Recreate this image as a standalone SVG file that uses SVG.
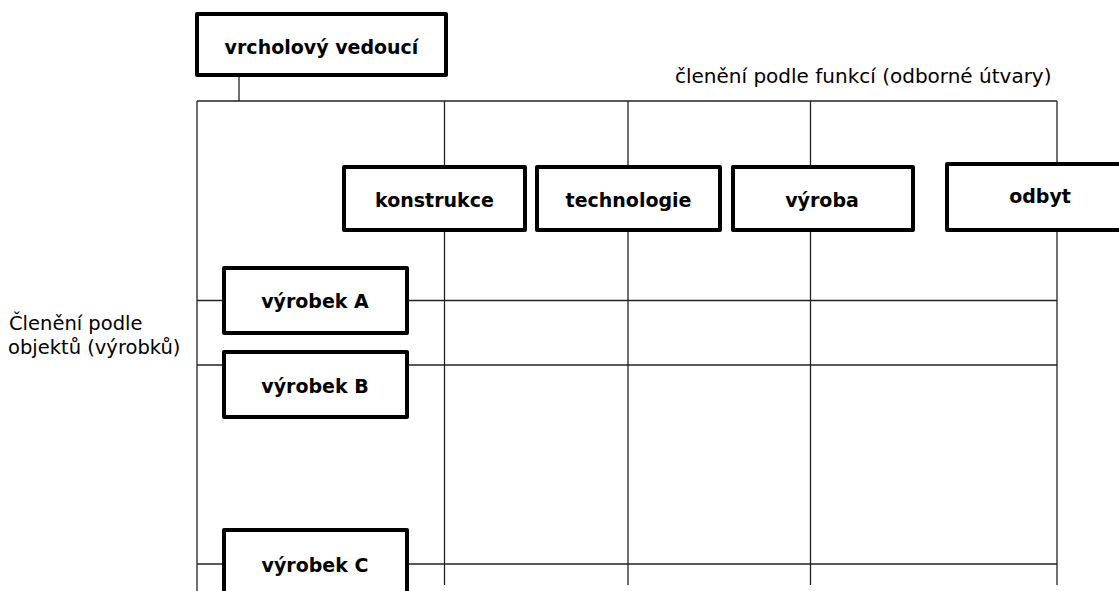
<svg xmlns="http://www.w3.org/2000/svg" width="1119" height="591" viewBox="0 0 1119 591">
  <style>
    .grid { stroke: #222; stroke-width: 1.3; fill: none; }
    .box rect { fill: #fff; stroke: #000; stroke-width: 4; stroke-linejoin: round; }
    .box text { font-family: "DejaVu Sans", Verdana, sans-serif; font-weight: bold; font-size: 19px; fill: #000; text-anchor: middle; }
    .note { font-family: "DejaVu Sans", Verdana, sans-serif; font-size: 20px; fill: #000; }
    .side { font-family: "DejaVu Sans", Verdana, sans-serif; font-size: 19.5px; fill: #000; }
  </style>

  <rect width="1119" height="591" fill="#fff"/>

  <!-- matrix grid and link from the top manager -->
  <g id="connectors" class="grid">
    <line x1="239" y1="76" x2="239" y2="101"/>
    <line x1="197" y1="101" x2="1057" y2="101"/>
    <line x1="197" y1="101" x2="197" y2="591"/>
    <line x1="444.5" y1="101" x2="444.5" y2="585"/>
    <line x1="628" y1="101" x2="628" y2="585"/>
    <line x1="810.5" y1="101" x2="810.5" y2="585"/>
    <line x1="1057" y1="101" x2="1057" y2="585"/>
    <line x1="197" y1="300.5" x2="1057" y2="300.5"/>
    <line x1="197" y1="365" x2="1057" y2="365"/>
    <line x1="197" y1="564" x2="1057" y2="564"/>
  </g>

  <g id="vrcholovy-vedouci" class="box">
    <rect x="197" y="14" width="249" height="61"/>
    <text x="321.5" y="54">vrcholový vedoucí</text>
  </g>

  <g id="konstrukce" class="box">
    <rect x="344" y="167" width="181" height="63"/>
    <text x="434.5" y="207">konstrukce</text>
  </g>

  <g id="technologie" class="box">
    <rect x="537" y="167" width="183" height="63"/>
    <text x="628.5" y="207">technologie</text>
  </g>

  <g id="vyroba" class="box">
    <rect x="733" y="167" width="180" height="63"/>
    <text x="822" y="207">výroba</text>
  </g>

  <g id="odbyt" class="box">
    <rect x="947" y="164" width="190" height="66"/>
    <text x="1040" y="203">odbyt</text>
  </g>

  <g id="vyrobek-a" class="box">
    <rect x="224" y="268" width="183" height="65"/>
    <text x="315" y="308">výrobek A</text>
  </g>

  <g id="vyrobek-b" class="box">
    <rect x="224" y="352" width="183" height="65"/>
    <text x="315" y="393">výrobek B</text>
  </g>

  <g id="vyrobek-c" class="box">
    <rect x="224" y="530" width="183" height="80"/>
    <text x="315" y="572">výrobek C</text>
  </g>

  <!-- axis captions -->
  <g id="caption-functions">
    <text class="note" x="675" y="83">členění podle funkcí (odborné útvary)</text>
  </g>
  <g id="caption-objects">
    <text class="side" x="9" y="330">Členění podle</text>
    <text class="side" x="8" y="354">objektů (výrobků)</text>
  </g>
</svg>
